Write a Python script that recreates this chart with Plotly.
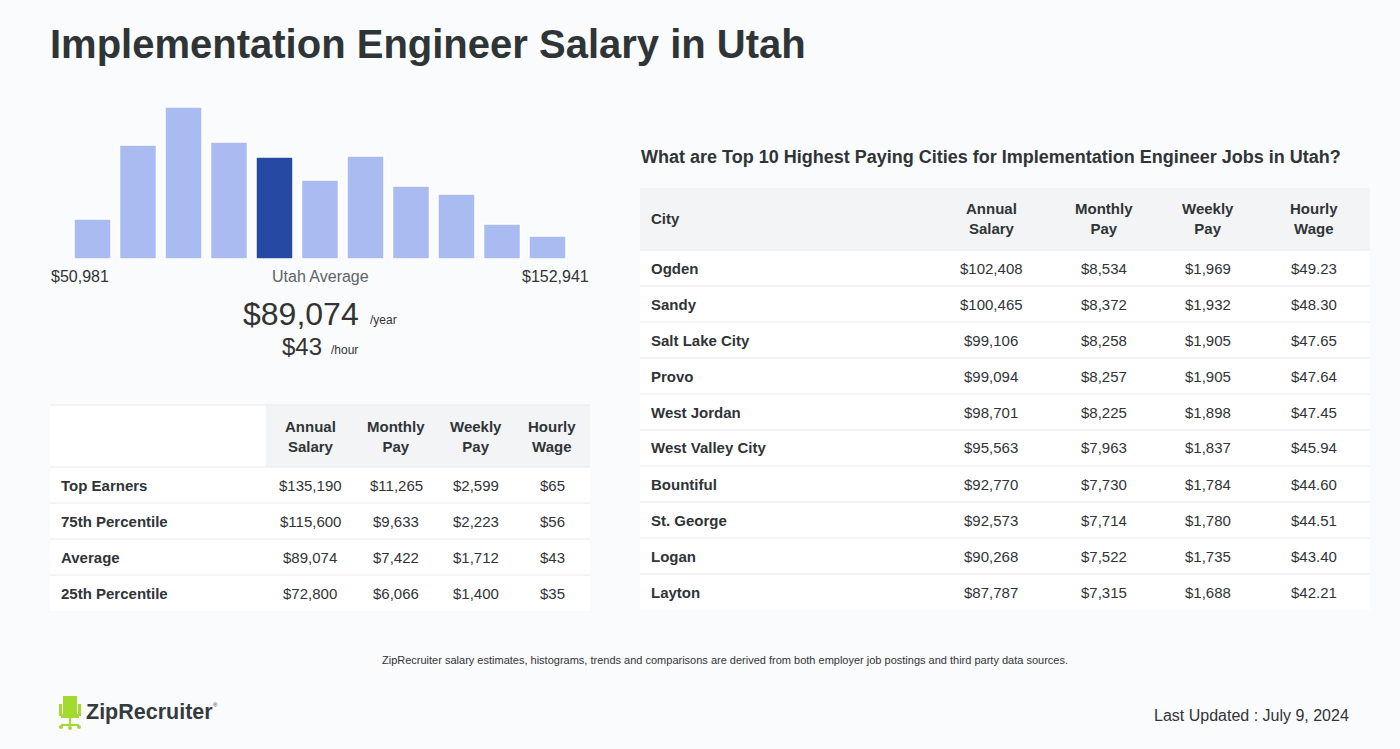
import plotly.graph_objects as go

W, H = 1400, 749

# ---------------- data ----------------
title = "Implementation Engineer Salary in Utah"
hist_bins = list(range(11))
hist_values = [40, 114, 152, 117, 102, 79, 103, 73, 65, 35, 23]
highlight_bin = 4
range_low = "$50,981"
range_high = "$152,941"
avg_label = "Utah Average"
avg_year = "$89,074"
avg_hour = "$43"

pct_headers = ["Annual<br>Salary", "Monthly<br>Pay", "Weekly<br>Pay", "Hourly<br>Wage"]
pct_labels = ["Top Earners", "75th Percentile", "Average", "25th Percentile"]
pct_annual = ["$135,190", "$115,600", "$89,074", "$72,800"]
pct_monthly = ["$11,265", "$9,633", "$7,422", "$6,066"]
pct_weekly = ["$2,599", "$2,223", "$1,712", "$1,400"]
pct_hourly = ["$65", "$56", "$43", "$35"]

city_title = "What are Top 10 Highest Paying Cities for Implementation Engineer Jobs in Utah?"
city_headers = ["City", "Annual<br>Salary", "Monthly<br>Pay", "Weekly<br>Pay", "Hourly<br>Wage"]
cities = ["Ogden", "Sandy", "Salt Lake City", "Provo", "West Jordan", "West Valley City",
          "Bountiful", "St. George", "Logan", "Layton"]
city_annual = ["$102,408", "$100,465", "$99,106", "$99,094", "$98,701", "$95,563",
               "$92,770", "$92,573", "$90,268", "$87,787"]
city_monthly = ["$8,534", "$8,372", "$8,258", "$8,257", "$8,225", "$7,963",
                "$7,730", "$7,714", "$7,522", "$7,315"]
city_weekly = ["$1,969", "$1,932", "$1,905", "$1,905", "$1,898", "$1,837",
               "$1,784", "$1,780", "$1,735", "$1,688"]
city_hourly = ["$49.23", "$48.30", "$47.65", "$47.64", "$47.45", "$45.94",
               "$44.60", "$44.51", "$43.40", "$42.21"]

footnote = ("ZipRecruiter salary estimates, histograms, trends and comparisons are derived "
            "from both employer job postings and third party data sources.")
updated = "Last Updated : July 9, 2024"
brand = "ZipRecruiter"

# ---------------- styles ----------------
BG = "#f9fbfd"
TXT = "#2f3437"
GRAY_HDR = "#f3f4f6"
LINE = "#e6e8eb"
LIGHT_BAR = "#a9bbf1"
DARK_BAR = "#264aa3"
GREEN = "#a2db2e"
FONT = "Liberation Sans, Arial, sans-serif"


def px(x):
    return x / W


def py(y):
    return 1 - y / H


annotations = []
shapes = []


def text(x, y, s, size=15, color=TXT, bold=False, xanchor="left", yanchor="middle"):
    if bold:
        s = "<b>" + s + "</b>"
    annotations.append(dict(x=px(x), y=py(y), xref="paper", yref="paper", text=s,
                            showarrow=False, xanchor=xanchor, yanchor=yanchor,
                            font=dict(size=size, color=color, family=FONT), borderpad=0))


def rect(x0, y0, x1, y1, color, line=None):
    shapes.append(dict(type="rect", xref="paper", yref="paper", x0=px(x0), x1=px(x1),
                       y0=py(y1), y1=py(y0), fillcolor=color,
                       line=dict(width=0) if line is None else line, layer="below"))


def hline(x0, x1, y, color=LINE, width=1):
    shapes.append(dict(type="line", xref="paper", yref="paper", x0=px(x0), x1=px(x1),
                       y0=py(y), y1=py(y), line=dict(color=color, width=width), layer="below"))


# ---------------- figure ----------------
fig = go.Figure()
colors = [DARK_BAR if i == highlight_bin else LIGHT_BAR for i in hist_bins]
fig.add_trace(go.Bar(x=hist_bins, y=hist_values, marker=dict(color=colors, line=dict(color="white", width=1.5)),
                     hoverinfo="skip"))

# title
text(49, 44, title, size=40, bold=True)

# histogram labels
text(50, 276, range_low, size=16, color="#333")
text(320, 276, avg_label, size=16, color="#5f6368", xanchor="center")
text(590, 276, range_high, size=16, color="#333", xanchor="right")
text(360, 314, avg_year, size=32, color="#333", xanchor="right")
text(369, 320, "/year", size=12, color="#333")
text(323, 346, avg_hour, size=24, color="#333", xanchor="right")
text(330, 350, "/hour", size=12, color="#333")

# left table
lt_x0, lt_x1 = 50, 590
rect(lt_x0, 405, lt_x1, 611, "white")
rect(266, 405, lt_x1, 467, GRAY_HDR)
hline(lt_x0, lt_x1, 405)
hline(lt_x0, lt_x1, 467)
pct_cols_x = [310, 396, 476, 552]
for cx, h in zip(pct_cols_x, pct_headers):
    text(cx, 436, h, size=15, bold=True, xanchor="center")
pct_cols = [pct_annual, pct_monthly, pct_weekly, pct_hourly]
for i, lab in enumerate(pct_labels):
    yc = 485 + 36 * i
    if i > 0:
        hline(lt_x0, lt_x1, 467 + 36 * i)
    text(60, yc, lab, size=15, bold=True)
    for cx, col in zip(pct_cols_x, pct_cols):
        text(cx, yc, col[i], size=15, xanchor="center")

# right table
text(640, 157, city_title, size=18, bold=True)
rt_x0, rt_x1 = 640, 1370
rect(rt_x0, 188, rt_x1, 610, "white")
rect(rt_x0, 188, rt_x1, 250, GRAY_HDR)
hline(rt_x0, rt_x1, 250)
city_cols_x = [991, 1104, 1208, 1314]
text(650, 219, city_headers[0], size=15, bold=True)
for cx, h in zip(city_cols_x, city_headers[1:]):
    text(cx, 219, h, size=15, bold=True, xanchor="center")
city_cols = [city_annual, city_monthly, city_weekly, city_hourly]
for i, c in enumerate(cities):
    yc = 268 + 36 * i
    if i > 0:
        hline(rt_x0, rt_x1, 250 + 36 * i)
    text(650, yc, c, size=15, bold=True)
    for cx, col in zip(city_cols_x, city_cols):
        text(cx, yc, col[i], size=15, xanchor="center")

# footer
text(725, 660, footnote, size=11, color="#333", xanchor="center")
text(1350, 715, updated, size=16, color="#333", xanchor="right")

# logo: chair icon
rect(63, 696, 77, 714, GREEN)
rect(59, 704, 62, 716, GREEN)
rect(78, 704, 81, 716, GREEN)
rect(61, 714, 79, 718, GREEN)
rect(69, 718, 71, 725, GREEN)
rect(61, 724, 79, 726, GREEN)
for cx0 in (59, 77, 68):
    shapes.append(dict(type="circle", xref="paper", yref="paper", x0=px(cx0), x1=px(cx0 + 4),
                       y0=py(729 + (1 if cx0 == 68 else 0)), y1=py(725 + (1 if cx0 == 68 else 0)),
                       fillcolor=GREEN, line=dict(width=0)))
text(85, 712, brand, size=21.5, color="#353a3f", bold=True)
text(212, 705, "®", size=6, color="#353a3f")

fig.update_layout(
    width=W, height=H,
    margin=dict(l=0, r=0, t=0, b=0),
    paper_bgcolor=BG, plot_bgcolor="rgba(0,0,0,0)",
    showlegend=False,
    bargap=0.187,
    xaxis=dict(domain=[px(69.75), px(570.25)], range=[-0.5, 10.5], visible=False, fixedrange=True),
    yaxis=dict(domain=[py(259), py(107)], range=[0, 152], visible=False, fixedrange=True),
    annotations=annotations,
    shapes=shapes,
    font=dict(family=FONT, color=TXT),
)

fig.write_html("out.html", config={"displayModeBar": False},
               post_script="document.body.style.margin='0';document.body.style.padding='0';"
                           "document.body.style.background='" + BG + "';")
